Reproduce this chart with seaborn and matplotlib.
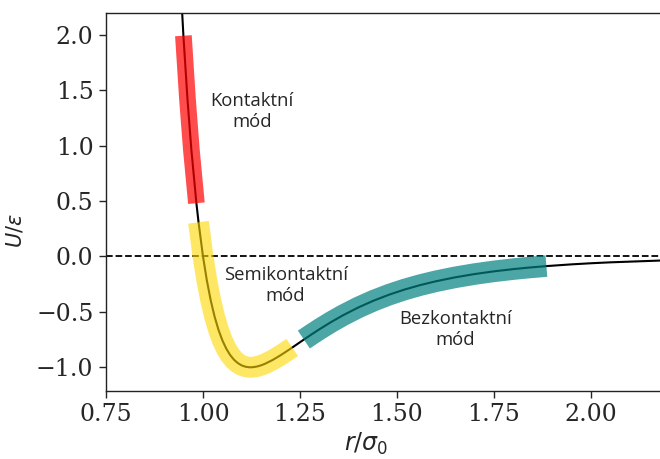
import matplotlib
matplotlib.use("Agg")
import matplotlib.pyplot as plt
import seaborn as sns
import numpy as np
import pandas as pd

# Lennard-Jones curve (r / sigma_0, U / epsilon)
r_vals = [0.94, 0.9495, 0.96, 0.97, 0.983, 0.9885, 1.00, 1.01, 1.02, 1.03, 1.04,
          1.05, 1.06, 1.07, 1.08, 1.09, 1.10, 1.11, 1.12, 1.1225, 1.13, 1.14,
          1.15, 1.16, 1.18, 1.20, 1.22, 1.23, 1.26, 1.28, 1.30, 1.33, 1.36,
          1.40, 1.44, 1.48, 1.52, 1.56, 1.60, 1.65, 1.70, 1.75, 1.80, 1.84,
          1.885, 1.95, 2.00, 2.05, 2.18]
u_vals = [2.6065, 1.9907, 1.4182, 0.9629, 0.4804, 0.3081, 0.0, -0.2184, -0.3979,
          -0.5444, -0.6629, -0.7575, -0.8320, -0.8893, -0.9322, -0.9629, -0.9834,
          -0.9952, -0.9998, -1.0000, -0.9985, -0.9921, -0.9817, -0.9679, -0.9329,
          -0.8910, -0.8452, -0.8216, -0.7498, -0.7027, -0.6570, -0.5921, -0.5323,
          -0.4607, -0.3983, -0.3444, -0.2980, -0.2583, -0.2242, -0.1884, -0.1589,
          -0.1344, -0.1142, -0.1004, -0.0872, -0.0714, -0.0615, -0.0532, -0.0369]

# mode ranges along r
mode_names = ["Kontaktní\nmód", "Semikontaktní\nmód", "Bezkontaktní\nmód"]
mode_ranges = [(0.9495, 0.983), (0.9885, 1.23), (1.26, 1.885)]
mode_label_pos = [(1.126, 1.31), (1.213, -0.26), (1.650, -0.66)]

x_ticks = [0.75, 1.00, 1.25, 1.50, 1.75, 2.00]
y_ticks = [-1.0, -0.5, 0.0, 0.5, 1.0, 1.5, 2.0]

sns.set_style("ticks")
plt.rcParams["axes.edgecolor"] = "#222222"
plt.rcParams["axes.linewidth"] = 1.0
plt.rcParams["mathtext.fontset"] = "dejavusans"

df = pd.DataFrame({"r": r_vals, "U": u_vals})

fig = plt.figure(figsize=(6.6, 4.59), dpi=100)
ax = fig.add_axes([106 / 660, 1 - 390.7 / 459, 554 / 660, (390.7 - 13.3) / 459])

ax.axhline(0.0, color="black", lw=1.3, ls="--", zorder=1)
sns.lineplot(data=df, x="r", y="U", sort=False, estimator=None, color="black",
             lw=1.5, ax=ax, zorder=2)

band_colors = ["red", "gold", "teal"]
band_alphas = [0.7, 0.6, 0.7]
band_widths = [12, 15, 15.5]
for (lo, hi), c, a, w in zip(mode_ranges, band_colors, band_alphas, band_widths):
    sub = df[(df["r"] >= lo - 1e-9) & (df["r"] <= hi + 1e-9)]
    sns.lineplot(data=sub, x="r", y="U", sort=False, estimator=None, color=c,
                 alpha=a, lw=w, solid_capstyle="butt", ax=ax, zorder=3)

for name, (tx, ty) in zip(mode_names, mode_label_pos):
    ax.text(tx, ty, name, ha="center", va="center", multialignment="center",
            fontsize=13.3, family=["Open Sans", "DejaVu Sans"], zorder=4)

ax.set_xlim(0.75, 0.75 + 554 / 388)
ax.set_ylim(-1.211, 2.193)
ax.set_xticks(x_ticks)
ax.set_yticks(y_ticks)
ax.set_xticklabels([f"{v:.2f}" for v in x_ticks])
ax.set_yticklabels([f"{v:.1f}".replace("-", "\u2212") for v in y_ticks])
for lab in ax.get_xticklabels() + ax.get_yticklabels():
    lab.set_family(["DejaVu Serif", "DejaVu Sans"])
    lab.set_fontsize(17)
ax.tick_params(axis="both", direction="out", length=5, width=1.0, pad=4)
ax.spines["right"].set_visible(False)

ax.set_xlabel(r"$r/\sigma_0$", fontsize=17)
ax.set_ylabel(r"$U/\varepsilon$", fontsize=15)
ax.xaxis.set_label_coords(0.469, -0.105)
ax.yaxis.set_label_coords(-0.146, 0.423)

fig.savefig("out.png", dpi=100)
